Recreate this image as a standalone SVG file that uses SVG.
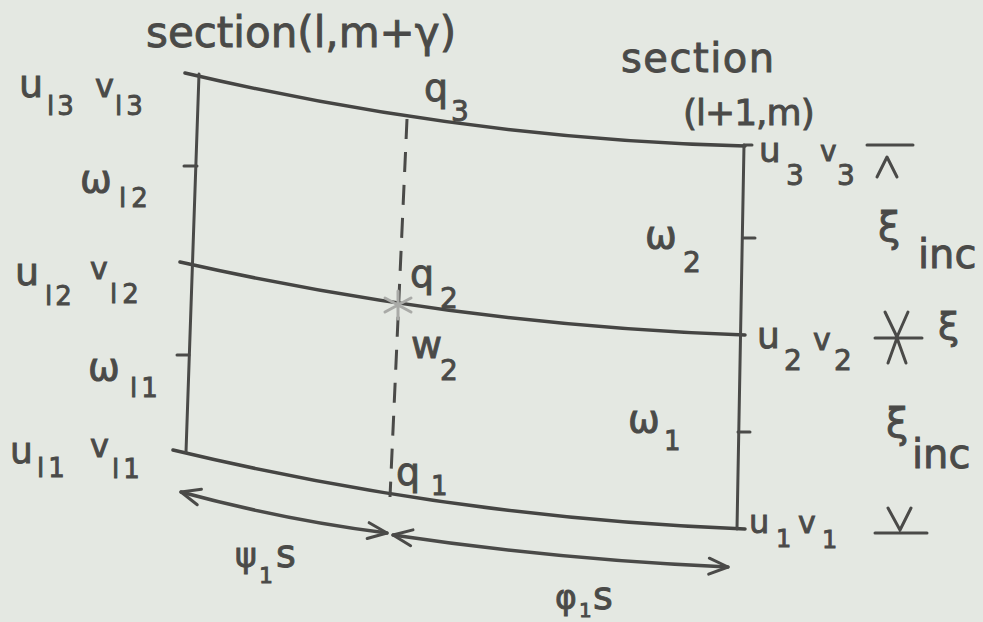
<svg xmlns="http://www.w3.org/2000/svg" width="983" height="622" viewBox="0 0 983 622">
<defs>
<style>
.ln{fill:none;stroke:#454543;stroke-width:3.5;stroke-linecap:round}
.vt{fill:none;stroke:#4a4a48;stroke-width:3;stroke-linecap:round}
.dash{fill:none;stroke:#4a4a48;stroke-width:3;stroke-dasharray:20 13}
.arr{fill:none;stroke:#4a4a48;stroke-width:3.5;stroke-linecap:round}
.mk{fill:none;stroke:#4a4a48;stroke-width:3;stroke-linecap:round;stroke-linejoin:round}
text{font-family:"DejaVu Sans","Liberation Sans",sans-serif;fill:#4a4a48;stroke:#4a4a48;stroke-width:0.9px}
.b{font-size:38px}
.s{font-size:26px}
</style>
<marker id="hd" viewBox="-2 -2 24 20" refX="20" refY="8" markerWidth="24" markerHeight="20" markerUnits="userSpaceOnUse" orient="auto-start-reverse">
<path d="M1,0 L20,8 L1,16" fill="none" stroke="#4a4a48" stroke-width="3" stroke-linecap="round" stroke-linejoin="round"/>
</marker>
</defs>
<rect x="0" y="0" width="983" height="622" fill="#e4e8e2"/>

<g id="grid">
<path class="ln" d="M185,73 Q466,139 745,146"/>
<path class="ln" d="M180,262 Q462.5,325.5 745,335"/>
<path class="ln" d="M173,450 Q459,518.5 745,529"/>
<path class="vt" d="M199,74 L186,452"/>
<path class="vt" d="M744,145 L737,529"/>
<path class="vt" d="M744,145 L752,145"/>
<path class="vt" d="M184,166 L197,166"/>
<path class="vt" d="M177,355 L189,355"/>
<path class="vt" d="M743,238 L755,238"/>
<path class="vt" d="M738,432 L750,432"/>
<path class="dash" d="M407,119 L390,497"/>
</g>

<g id="star">
<path d="M398,291 V319 M385,298 L411,312 M385,312 L411,298" stroke="#a9aaa7" stroke-width="3" fill="none" stroke-linecap="round"/>
</g>

<g id="connectors">
<path class="arr" d="M181,492 Q284,520 387,533" marker-start="url(#hd)" marker-end="url(#hd)"/>
<path class="arr" d="M393,535 Q560,560 728,567" marker-start="url(#hd)" marker-end="url(#hd)"/>
</g>

<g id="marks">
<path class="mk" d="M867,145 H913 M877,177 L887,157 L897,177"/>
<path class="mk" d="M885,312 L897,337 L908,312 M875,338 H922 M888,363 L897,338 L906,363"/>
<path class="mk" d="M888,508 L900,530 L911,508 M875,533 H927"/>
</g>

<g id="section-left">
<text x="146" y="47" style="font-size:42px">section(l,m+γ)</text>
</g>
<g id="section-right">
<text x="621" y="72" style="font-size:40px;letter-spacing:1.5px">section</text>
<text x="683" y="125" style="font-size:36px;letter-spacing:-1px">(l+1,m)</text>
</g>

<g id="left-labels">
<text x="19" y="97" class="b">u</text><text x="47" y="115" class="s" style="letter-spacing:3px">l3</text>
<text x="95" y="97" style="font-size:32px">v</text><text x="115" y="115" class="s" style="letter-spacing:4px">l3</text>
<text x="80" y="192" class="b">ω</text><text x="119" y="207" class="s" style="letter-spacing:5px">l2</text>
<text x="15" y="285" class="b">u</text><text x="45" y="305" class="s" style="letter-spacing:3px">l2</text>
<text x="90" y="279" style="font-size:30px">v</text><text x="110" y="303" class="s" style="letter-spacing:5px">l2</text>
<text x="88" y="380" class="b">ω</text><text x="130" y="397" class="s" style="letter-spacing:4px">l1</text>
<text x="10" y="463" style="font-size:36px">u</text><text x="37" y="477" class="s" style="letter-spacing:4px">l1</text>
<text x="90" y="457" style="font-size:32px">v</text><text x="112" y="478" class="s" style="letter-spacing:4px">l1</text>
</g>

<g id="middle-labels">
<text x="424" y="101" class="b">q</text><text x="451" y="121" style="font-size:28px">3</text>
<text x="410" y="287" class="b">q</text><text x="440" y="308" style="font-size:28px">2</text>
<text x="411" y="358" class="b">w</text><text x="440" y="380" style="font-size:28px">2</text>
<text x="396" y="485" class="b">q</text><text x="431" y="495" class="s">1</text>
<text x="645" y="248" class="b">ω</text><text x="683" y="272" style="font-size:28px">2</text>
<text x="628" y="432" class="b">ω</text><text x="664" y="450" class="s">1</text>
</g>

<g id="arrow-labels">
<text x="235" y="567" style="font-size:33px">ψ</text><text x="259" y="583" style="font-size:22px">1</text><text x="276" y="567" class="b">s</text>
<text x="555" y="609" style="font-size:33px">φ</text><text x="579" y="617" style="font-size:20px">1</text><text x="593" y="609" class="b">s</text>
</g>

<g id="right-labels">
<text x="759" y="162" style="font-size:34px">u</text><text x="786" y="185" style="font-size:28px">3</text>
<text x="820" y="161" style="font-size:28px">v</text><text x="837" y="185" style="font-size:28px">3</text>
<text x="878" y="241" style="font-size:40px">ξ</text><text x="918" y="268" style="font-size:40px">inc</text>
<text x="757" y="348" style="font-size:36px">u</text><text x="784" y="370" style="font-size:28px">2</text>
<text x="813" y="350" style="font-size:30px">v</text><text x="834" y="370" style="font-size:28px">2</text>
<text x="938" y="339" style="font-size:38px">ξ</text>
<text x="886" y="437" style="font-size:40px">ξ</text><text x="912" y="468" style="font-size:40px">inc</text>
<text x="749" y="533" style="font-size:32px">u</text><text x="776" y="547" style="font-size:24px">1</text>
<text x="798" y="533" style="font-size:30px">v</text><text x="822" y="548" style="font-size:24px">1</text>
</g>
</svg>
